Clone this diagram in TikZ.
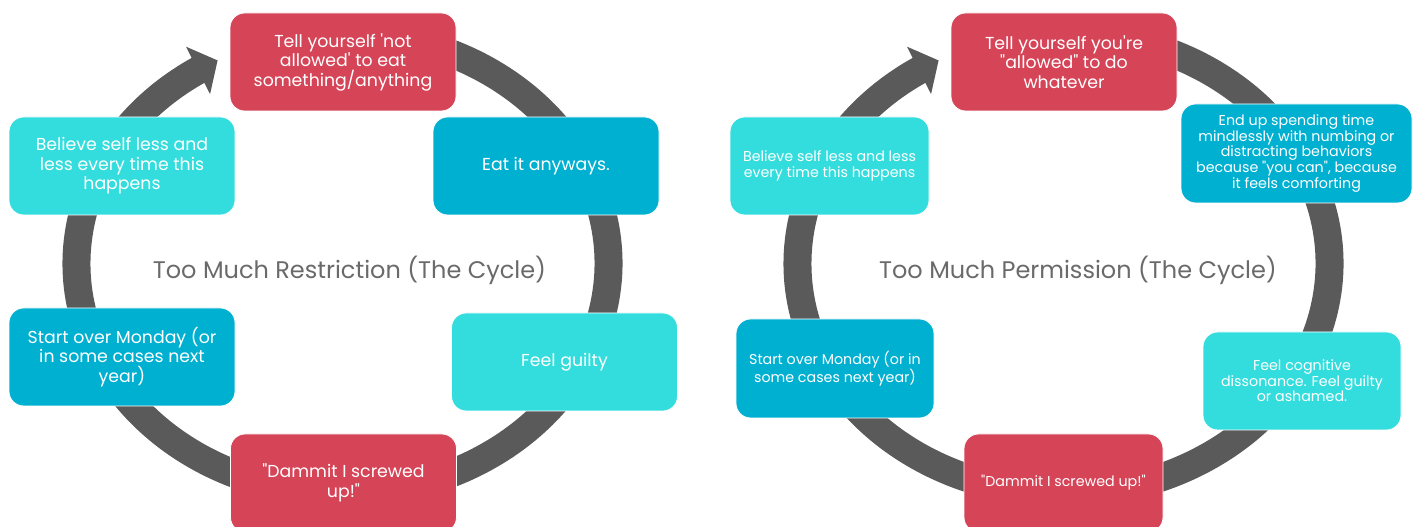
\documentclass[tikz,border=0pt]{standalone}
\usepackage{fontspec}
\setmainfont{Poppins}
\usetikzlibrary{arrows.meta,bending}
\definecolor{cred}{HTML}{D64457}
\definecolor{cblue}{HTML}{00B0D1}
\definecolor{ccyan}{HTML}{34DDDD}
\definecolor{ringgray}{HTML}{5A5A5A}
\definecolor{titlegray}{HTML}{6A6A6A}
\newcommand{\dq}{\textquotedbl}
\newcommand{\sq}{\textquotesingle}
\begin{document}
\begin{tikzpicture}[x=0.75pt,y=0.75pt,
  box/.style={rectangle, rounded corners=11pt, draw=white, line width=0.6pt,
    text=white, align=center, inner sep=0pt,
    minimum width=169.5pt, minimum height=73.5pt},
  big/.style={font=\fontsize{13}{14.6}\selectfont},
  small/.style={font=\fontsize{10.7}{11.7}\selectfont},
  ring/.style={draw=ringgray, line width=21pt,
    -{Triangle[width=39pt,length=16.5pt,flex]}},
  title/.style={text=titlegray, font=\fontsize{18}{21}\selectfont}]
\useasboundingbox (0,0) rectangle (1420,527);
\fill[white] (0,0) rectangle (1420,527);
% rings
\draw[ring] (388.69,490.0) arc[start angle=80, end angle=-242, x radius=199.5pt, y radius=172.5pt];
\draw[ring] (1109.69,490.0) arc[start angle=80, end angle=-242, x radius=199.5pt, y radius=172.5pt];
% left cycle
\node[box, big, fill=cred] (l1) at (343,465) {Tell yourself \sq not\\allowed\sq{} to eat\\something/anything};
\node[box, big, fill=cblue] (l2) at (546,361) {Eat it anyways.};
\node[box, big, fill=ccyan] (l3) at (564.5,165) {Feel guilty};
\node[box, big, fill=cred] (l4) at (343.5,44) {\dq Dammit I screwed\\up!\dq};
\node[box, big, fill=cblue] (l5) at (122,170) {Start over Monday (or\\in some cases next\\year)};
\node[box, big, fill=ccyan] (l6) at (122,361) {Believe self less and\\less every time this\\happens};
\node[title] (lt) at (349.5,257) {Too Much Restriction (The Cycle)};
% right cycle
\node[box, big, fill=cred] (r1) at (1064,465) {Tell yourself you\sq re\\\dq allowed\dq{} to do\\whatever};
\node[box, small, fill=cblue, minimum width=173.25pt, minimum height=74.25pt] (r2) at (1296.5,373.5) {End up spending time\\mindlessly with numbing or\\distracting behaviors\\because \dq you can\dq, because\\it feels comforting};
\node[box, small, fill=ccyan, minimum width=148.5pt] (r3) at (1302,146) {Feel cognitive\\dissonance. Feel guilty\\or ashamed.};
\node[box, small, fill=cred, minimum width=149.25pt] (r4) at (1063.5,44) {\dq Dammit I screwed up!\dq};
\node[box, small, fill=cblue, minimum width=148.5pt, minimum height=74.25pt] (r5) at (835,158.5) {Start over Monday (or in\\some cases next year)};
\node[box, small, fill=ccyan, minimum width=149.25pt] (r6) at (829.5,361) {Believe self less and less\\every time this happens};
\node[title] (rt) at (1078,257) {Too Much Permission (The Cycle)};
\end{tikzpicture}
\end{document}
